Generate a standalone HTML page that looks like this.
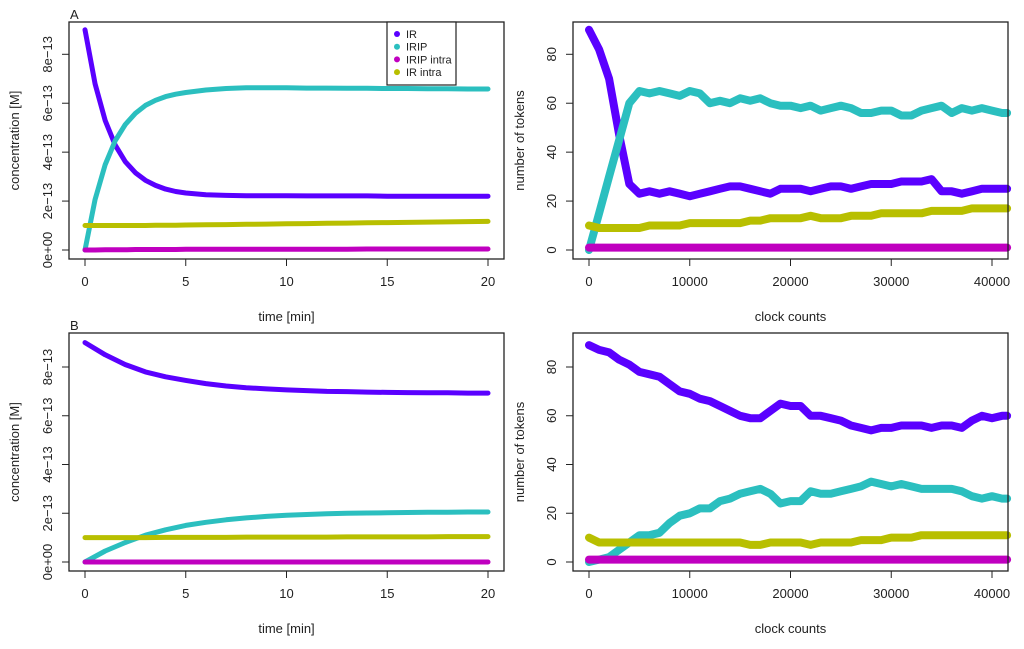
<!DOCTYPE html>
<html><head><meta charset="utf-8"><style>
body{margin:0;background:#fff;width:1024px;height:644px;overflow:hidden}
svg{font-family:"Liberation Sans",sans-serif}
</style></head><body>
<svg id="fig" width="1024" height="644" viewBox="0 0 1024 644"></svg>
<script>
// ---- data ----
const tA = [0,0.5,1,1.5,2,2.5,3,3.5,4,4.5,5,6,7,8,9,10,11,12,13,14,15,16,17,18,19,20];
const aIR = [9.0,6.79,5.29,4.29,3.61,3.16,2.85,2.64,2.49,2.39,2.33,2.26,2.23,2.22,2.22,2.22,2.21,2.21,2.21,2.21,2.2,2.2,2.2,2.2,2.2,2.2];
const aIRIP = [0,2.07,3.49,4.47,5.13,5.59,5.91,6.12,6.27,6.37,6.44,6.54,6.6,6.63,6.63,6.63,6.62,6.62,6.61,6.61,6.6,6.6,6.59,6.59,6.58,6.58];
const aIRIPi = [0,0,0.01,0.01,0.01,0.02,0.02,0.02,0.02,0.02,0.03,0.03,0.03,0.03,0.03,0.03,0.03,0.03,0.03,0.04,0.04,0.04,0.04,0.04,0.04,0.04];
const aIRi = [1.0,1.0,1.0,1.0,1.0,1.0,1.0,1.01,1.01,1.01,1.02,1.03,1.04,1.05,1.06,1.07,1.08,1.09,1.1,1.11,1.12,1.13,1.14,1.15,1.16,1.17];
const tB = [0,1,2,3,4,5,6,7,8,9,10,11,12,13,14,15,16,17,18,19,20];
const bIR = [9.0,8.5,8.1,7.8,7.6,7.45,7.32,7.22,7.15,7.1,7.06,7.03,7.0,6.99,6.97,6.96,6.95,6.94,6.94,6.93,6.93];
const bIRIP = [0,0.45,0.8,1.1,1.32,1.5,1.63,1.73,1.81,1.87,1.92,1.95,1.98,2.0,2.01,2.02,2.03,2.04,2.04,2.05,2.05];
const bIRIPi = [0,0,0,0,0,0,0,0,0,0,0,0,0,0,0,0,0,0,0,0,0];
const bIRi = [1.0,1.0,1.0,1.0,1.01,1.01,1.01,1.01,1.02,1.02,1.02,1.02,1.02,1.03,1.03,1.03,1.03,1.03,1.04,1.04,1.04];
const cc = [0,1000,2000,3000,4000,5000,6000,7000,8000,9000,10000,11000,12000,13000,14000,15000,16000,17000,18000,19000,20000,21000,22000,23000,24000,25000,26000,27000,28000,29000,30000,31000,32000,33000,34000,35000,36000,37000,38000,39000,40000,41000,41500];
const cIR = [90,82,70,47,27,23,24,23,24,23,22,23,24,25,26,26,25,24,23,25,25,25,24,25,26,26,25,26,27,27,27,28,28,28,29,24,24,23,24,25,25,25,25];
const cIRIP = [0,15,30,45,60,65,64,65,64,63,65,64,60,61,60,62,61,62,60,59,59,58,59,57,58,59,58,56,56,57,57,55,55,57,58,59,56,58,57,58,57,56,56];
const cIRIPi = [1,1,1,1,1,1,1,1,1,1,1,1,1,1,1,1,1,1,1,1,1,1,1,1,1,1,1,1,1,1,1,1,1,1,1,1,1,1,1,1,1,1,1];
const cIRi = [10,9,9,9,9,9,10,10,10,10,11,11,11,11,11,11,12,12,13,13,13,13,14,13,13,13,14,14,14,15,15,15,15,15,16,16,16,16,17,17,17,17,17];
const dIR = [89,87,86,83,81,78,77,76,73,70,69,67,66,64,62,60,59,59,62,65,64,64,60,60,59,58,56,55,54,55,55,56,56,56,55,56,56,55,58,60,59,60,60];
const dIRIP = [0,1,2,5,8,11,11,12,16,19,20,22,22,25,26,28,29,30,28,24,25,25,29,28,28,29,30,31,33,32,31,32,31,30,30,30,30,29,27,26,27,26,26];
const dIRIPi = cIRIPi;
const dIRi = [10,8,8,8,8,8,8,8,8,8,8,8,8,8,8,8,7,7,8,8,8,8,7,8,8,8,8,9,9,9,10,10,10,11,11,11,11,11,11,11,11,11,11];
const yTicksConc = [0,2,4,6,8];
const yTickLabConc = ["0e+00","2e\u221213","4e\u221213","6e\u221213","8e\u221213"];
const xTicksTime = [0,5,10,15,20];
const yTicksTok = [0,20,40,60,80];
const xTicksCC = [0,10000,20000,30000,40000];
const xTickLabCC = ["0","10000","20000","30000","40000"];
const colors = {IR:"#5a00ff",IRIP:"#2bbfbf",IRIPi:"#c000c0",IRi:"#b8bf00"};
const legendNames = ["IR","IRIP","IRIP intra","IR intra"];

const svg = document.getElementById('fig');
const NS = "http://www.w3.org/2000/svg";
function mk(tag, attrs, parent){const e=document.createElementNS(NS,tag);for(const k in attrs)e.setAttribute(k,attrs[k]);(parent||svg).appendChild(e);return e;}

function panel(o){
  const g = mk('g',{});
  
  
  const sx = v => o.x0 + (v - o.xd0) * (o.x1 - o.x0) / (o.xd1 - o.xd0);
  const sy = v => o.y0 + (v - o.yd0) * (o.y1 - o.y0) / (o.yd1 - o.yd0);
  o.series.forEach(s=>{
    const d = s.y.map((v,i)=>(i?'L':'M')+sx(o.xs[i]).toFixed(1)+' '+sy(v).toFixed(1)).join(' ');
    const p = mk('path',{d:d,fill:'none',stroke:s.c,'stroke-width':o.lw,'stroke-linejoin':'round','stroke-linecap':'round'},g);
    
    
  });
  const box = mk('rect',{x:o.bx0,y:o.by0,width:o.bx1-o.bx0,height:o.by1-o.by0,fill:'none',stroke:'#222','stroke-width':1.3},g);
  
  
  const xa = mk('g',{},g);
  
  
  mk('line',{x1:sx(o.xt[0]),x2:sx(o.xt[o.xt.length-1]),y1:o.by1,y2:o.by1,stroke:'#222'},xa);
  o.xt.forEach((v,i)=>{
    mk('line',{x1:sx(v),x2:sx(v),y1:o.by1,y2:o.by1+7,stroke:'#222'},xa);
    const t = mk('text',{x:sx(v),y:o.by1+27,'text-anchor':'middle','font-size':13,fill:'#222'},xa);
    t.textContent = o.xl[i];
  });
  const xt = mk('text',{x:(o.bx0+o.bx1)/2,y:o.by1+62,'text-anchor':'middle','font-size':13,fill:'#222'},g);
  
  
  xt.textContent = o.xTitle;
  const ya = mk('g',{},g);
  
  
  mk('line',{x1:o.bx0,x2:o.bx0,y1:sy(o.yt[0]),y2:sy(o.yt[o.yt.length-1]),stroke:'#222'},ya);
  o.yt.forEach((v,i)=>{
    mk('line',{x1:o.bx0-7,x2:o.bx0,y1:sy(v),y2:sy(v),stroke:'#222'},ya);
    const tx=o.bx0-17, ty=sy(v);
    const t = mk('text',{x:tx,y:ty,'text-anchor':'middle','font-size':13,fill:'#222',transform:`rotate(-90 ${tx} ${ty})`},ya);
    t.textContent = o.yl[i];
  });
  const yx=o.ytx, yy=(o.by0+o.by1)/2;
  const yt = mk('text',{x:yx,y:yy,'text-anchor':'middle','font-size':13,fill:'#222',transform:`rotate(-90 ${yx} ${yy})`},g);
  
  
  yt.textContent = o.yTitle;
  if(o.label){
    const l = mk('text',{x:o.bx0+1,y:o.by0-3,'font-size':13,fill:'#222'},g);
    
    
    l.textContent = o.label;
  }
  return g;
}
function ser(a,b,c,d){return [{n:'IR-line',c:colors.IR,y:a},{n:'IRIP-line',c:colors.IRIP,y:b},{n:'IRIP-intra-line',c:colors.IRIPi,y:c},{n:'IR-intra-line',c:colors.IRi,y:d}];}
const L = {x0:85,x1:488,xd0:0,xd1:20,bx0:69,bx1:504,xt:xTicksTime,xl:xTicksTime.map(String),xTitle:'time [min]',yt:yTicksConc,yl:yTickLabConc,yTitle:'concentration [M]',ytx:19,lw:5,xs:null};
const R = {x0:589,x1:992,xd0:0,xd1:40000,bx0:573,bx1:1008,xt:xTicksCC,xl:xTickLabCC,xTitle:'clock counts',yt:yTicksTok,yl:yTicksTok.map(String),yTitle:'number of tokens',ytx:524,lw:8};
panel(Object.assign({},L,{name:'panel-a-deterministic',xs:tA,y0:250,y1:54.3,yd0:0,yd1:8,by0:22,by1:259,label:'A',series:ser(aIR,aIRIP,aIRIPi,aIRi)}));
panel(Object.assign({},L,{name:'panel-b-deterministic',xs:tB,y0:562,y1:367,yd0:0,yd1:8,by0:333,by1:571,label:'B',series:ser(bIR,bIRIP,bIRIPi,bIRi)}));
panel(Object.assign({},R,{name:'panel-a-stochastic',xs:cc,y0:250,y1:54.3,yd0:0,yd1:80,by0:22,by1:259,series:ser(cIR,cIRIP,cIRIPi,cIRi)}));
panel(Object.assign({},R,{name:'panel-b-stochastic',xs:cc,y0:562,y1:367,yd0:0,yd1:80,by0:333,by1:571,series:ser(dIR,dIRIP,dIRIPi,dIRi)}));
const lg = mk('g',{});


mk('rect',{x:387,y:22,width:69,height:63,fill:'#fff',stroke:'#222','stroke-width':1.2},lg);
const lc=[colors.IR,colors.IRIP,colors.IRIPi,colors.IRi];
legendNames.forEach((n,i)=>{
  const e = mk('g',{},lg);
  
  
  mk('circle',{cx:397,cy:34+i*12.7,r:3,fill:lc[i]},e);
  const t=mk('text',{x:406,y:38+i*12.7,'font-size':11,fill:'#222'},e);
  t.textContent=n;
});
</script>
</body></html>
